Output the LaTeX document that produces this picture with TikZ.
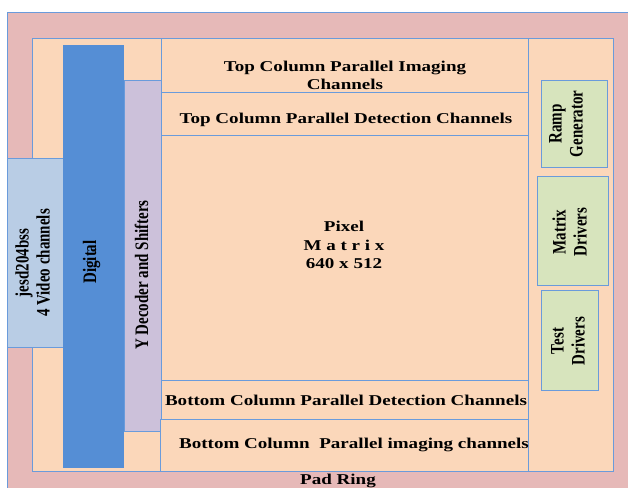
\documentclass[tikz,border=0pt]{standalone}
\usepackage{fontspec}
\usepackage{graphicx}
\setmainfont{Liberation Serif}[FakeStretch=1.27]
\newfontfamily\rfont{Liberation Serif}
\definecolor{padc}{HTML}{E6B9B8}
\definecolor{corec}{HTML}{FBD7BA}
\definecolor{digc}{HTML}{558ED5}
\definecolor{lavc}{HTML}{CCC1DA}
\definecolor{jesdc}{HTML}{B9CDE5}
\definecolor{grnc}{HTML}{D7E4BD}
\definecolor{bordc}{HTML}{6A9BDB}
\newcommand\vtext[1]{\scalebox{1}[1.27]{\rfont\bfseries\fontsize{15}{16.5}\selectfont\begin{tabular}{@{}c@{}}#1\end{tabular}}}
\begin{document}
\begin{tikzpicture}[x=1pt,y=-1pt,
  blk/.style={draw=bordc, line width=0.9pt},
  htxt/.style={font=\fontsize{15}{18.5}\selectfont\bfseries, align=center, inner sep=0pt, text=black},
  vtxt/.style={rotate=90, inner sep=0pt, text=black}]
\useasboundingbox (0,0) rectangle (628,487);
\clip (0,0) rectangle (628,487);
% pad ring
\fill[padc] (7,12) rectangle (650,510);
\draw[bordc, line width=0.9pt] (7,510) -- (7,12) -- (650,12);
% core
\draw[blk, fill=corec] (32,38) rectangle (613,471);
% left blocks
\draw[blk, fill=jesdc] (7,158) rectangle (63,347);
\fill[digc] (63,45) rectangle (124,468);
\draw[blk, fill=lavc] (124,80) rectangle (162,431);
% column blocks
\draw[blk, fill=corec] (161,38) rectangle (528,92);
\draw[blk, fill=corec] (161,92) rectangle (528,135);
\draw[blk, fill=corec] (161,135) rectangle (528,380);
\draw[blk, fill=corec] (161,380) rectangle (528,419);
\draw[blk, fill=corec] (160,419) rectangle (528,471);
% right blocks
\draw[blk, fill=grnc] (541,80) rectangle (607,167);
\draw[blk, fill=grnc] (537,176) rectangle (608,285);
\draw[blk, fill=grnc] (541,290) rectangle (598,390);
% texts
\node[htxt] (topimg) at (345,75.5) {Top Column Parallel Imaging\\Channels};
\node[htxt] (topdet) at (346,120) {Top Column Parallel Detection Channels};
\node[htxt] (pixel) at (344,245) {Pixel\\M a t r i x\\640 x 512};
\node[htxt] (botdet) at (346,400.5) {Bottom Column Parallel Detection Channels};
\node[htxt] (botimg) at (354,445) {Bottom Column\ \ Parallel imaging channels};
\node[htxt] (pad) at (338,480.5) {Pad Ring};
\node[vtxt] (jesd) at (35,263) {\vtext{jesd204bss\\4 Video channels}};
\node[vtxt] (dig) at (92,262) {\vtext{Digital}};
\node[vtxt] (ydec) at (144,275) {\vtext{Y Decoder and Shifters}};
\node[vtxt] (ramp) at (568,124) {\vtext{Ramp\\Generator}};
\node[vtxt] (mdrv) at (572,232) {\vtext{Matrix\\Drivers}};
\node[vtxt] (tdrv) at (570,341) {\vtext{Test\\Drivers}};
\end{tikzpicture}
\end{document}
